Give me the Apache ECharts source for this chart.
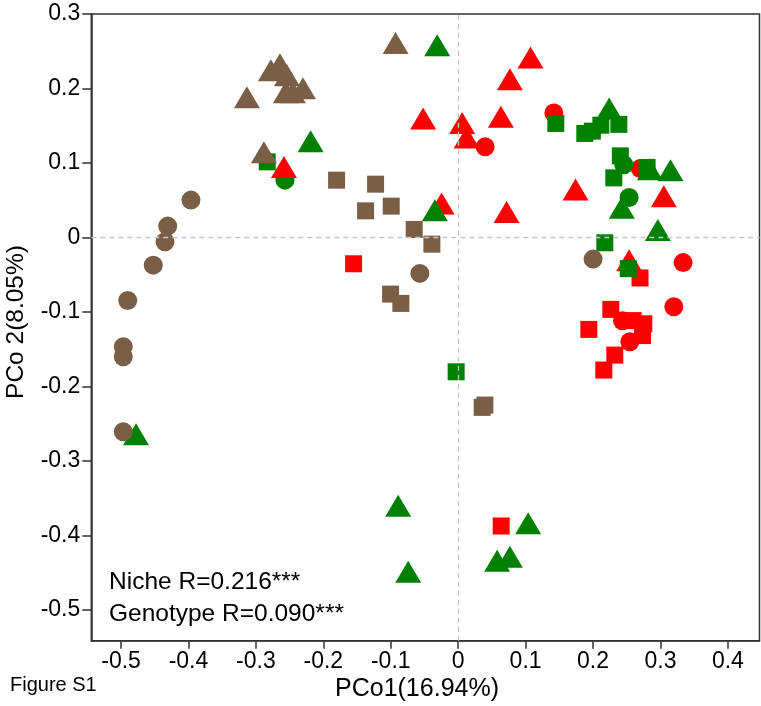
<!DOCTYPE html>
<html>
<head>
<meta charset="utf-8">
<script src="https://cdn.jsdelivr.net/npm/echarts@6/dist/echarts.min.js"></script>
<style>
html,body{margin:0;padding:0;background:#fff;}
#chart{width:761px;height:706px;}
</style>
</head>
<body>
<div id="chart"></div>
<script>
// ---- data ----
var xTicks = [-0.5, -0.4, -0.3, -0.2, -0.1, 0, 0.1, 0.2, 0.3, 0.4];
var yTicks = [-0.5, -0.4, -0.3, -0.2, -0.1, 0, 0.1, 0.2, 0.3];

var brownCircle = [[-0.3963,0.0501],[-0.4308,0.0152],[-0.4348,-0.0059],[-0.4522,-0.0372],[-0.4901,-0.0846],
  [-0.4967,-0.1468],[-0.4967,-0.1603],[-0.4967,-0.2609],[-0.0568,-0.0483],[0.2001,-0.0291]];
var brownSquare = [[-0.1803,0.0769],[-0.1225,0.0715],[-0.1373,0.0357],[-0.0993,0.0420],[-0.0652,0.0107],
  [-0.0390,-0.0090],[-0.1002,-0.0761],[-0.0850,-0.0886],[0.0356,-0.2282],[0.0396,-0.2251]];
var brownTriangle = [[-0.3133,0.1883],[-0.2777,0.2246],[-0.2643,0.2326],[-0.2540,0.2179],[-0.2555,0.1950],
  [-0.2451,0.1950],[-0.2302,0.2004],[-0.2881,0.1145],[-0.0928,0.2612]];
var redCircle = [[0.0400,0.1216],[0.1419,0.1672],[0.2701,0.0926],[0.3336,-0.0338],[0.3198,-0.0932],
  [0.2437,-0.1119],[0.2546,-0.1401]];
var redSquare = [[-0.1551,-0.0354],[0.2697,-0.0544],[0.2264,-0.0966],[0.2594,-0.1117],[0.2753,-0.1160],
  [0.2734,-0.1318],[0.1938,-0.1235],[0.2323,-0.1580],[0.2160,-0.1781],[0.0638,-0.3875]];
var redTriangle = [[0.1073,0.2416],[0.0767,0.2125],[-0.0519,0.1597],[0.0059,0.1538],[0.0125,0.1342],
  [0.0633,0.1619],[0.1741,0.0642],[0.3050,0.0554],[0.0718,0.0340],[-0.0246,0.0456],[-0.2584,0.0944],[0.2535,-0.0305]];
var greenCircle = [[-0.2569,0.0769],[0.2457,0.0977],[0.2535,0.0537]];
var greenSquare = [[-0.2832,0.1015],[0.1448,0.1530],[0.1878,0.1396],[0.1990,0.1427],[0.2116,0.1507],
  [0.2383,0.1518],[0.2405,0.1095],[0.2802,0.0940],[0.2308,0.0800],[0.2175,-0.0072],[0.2523,-0.0419],[-0.0030,-0.1804]];
var greenTriangle = [[-0.2188,0.1293],[-0.0311,0.2581],[0.2239,0.1732],[0.2842,0.0917],[0.3149,0.0903],
  [0.2427,0.0400],[0.2961,0.0098],[-0.0345,0.0366],[-0.4778,-0.2644],[-0.0890,-0.3603],[-0.0741,-0.4489],
  [0.1038,-0.3839],[0.0578,-0.4341],[0.0767,-0.4287]];

var annotations = ['Niche R=0.216***', 'Genotype R=0.090***'];
var xName = 'PCo1(16.94%)';
var yName = 'PCo 2(8.05%)';
var figLabel = 'Figure S1';

// ---- style ----
var BROWN = '#7B5E46', RED = '#FF0000', GREEN = '#008000';
var FONT = '"Liberation Sans", Arial, Helvetica, sans-serif';
var AX = '#333333';

function sc(name, data, color, symbol, size) {
  return {
    name: name, type: 'scatter', data: data, symbol: symbol, symbolSize: size,
    itemStyle: { color: color, opacity: 1 }, silent: true, animation: false
  };
}

var chart = echarts.init(document.getElementById('chart'), null, { renderer: 'canvas' });
chart.setOption({
  backgroundColor: '#ffffff',
  animation: false,
  grid: { left: 91.3, right: 1.5, top: 14, bottom: 65.3, show: true, borderColor: AX, borderWidth: 1.5, backgroundColor: 'transparent' },
  xAxis: {
    type: 'value', min: -0.5441, max: 0.4469,
    axisLine: { show: true, onZero: false, lineStyle: { color: AX, width: 1.5 } },
    axisTick: { show: true, customValues: xTicks, length: 8, lineStyle: { color: AX, width: 1.5 } },
    axisLabel: { show: true, customValues: xTicks, margin: 9, color: '#000', fontSize: 23, fontFamily: FONT },
    splitLine: { show: false }
  },
  yAxis: {
    type: 'value', min: -0.5415, max: 0.3,
    axisLine: { show: true, onZero: false, lineStyle: { color: AX, width: 1.5 } },
    axisTick: { show: true, customValues: yTicks, length: 9, lineStyle: { color: AX, width: 1.5 } },
    axisLabel: { show: true, customValues: yTicks, margin: 11, color: '#000', fontSize: 23, fontFamily: FONT },
    splitLine: { show: false }
  },
  series: [
    {
      type: 'scatter', data: [], z: 1, silent: true,
      markLine: {
        silent: true, symbol: ['none', 'none'], animation: false,
        label: { show: false },
        lineStyle: { color: '#c8c8c8', width: 1.3, type: [5, 4] },
        data: [{ xAxis: 0 }, { yAxis: 0 }]
      }
    },
    sc('redCircle', redCircle, RED, 'circle', 19),
    sc('redSquare', redSquare, RED, 'rect', 17),
    sc('greenCircle', greenCircle, GREEN, 'circle', 19),
    sc('redTriangle', redTriangle, RED, 'triangle', [26, 22]),
    sc('greenSquare', greenSquare, GREEN, 'rect', 17),
    sc('greenTriangle', greenTriangle, GREEN, 'triangle', [26, 22]),
    sc('brownCircle', brownCircle, BROWN, 'circle', 19),
    sc('brownSquare', brownSquare, BROWN, 'rect', 17),
    sc('brownTriangle', brownTriangle, BROWN, 'triangle', [26, 22])
  ],
  graphic: [
    { type: 'text', x: 109, y: 582.5, silent: true,
      style: { text: annotations[0], fontSize: 24.5, fontFamily: FONT, fill: '#000', align: 'left', verticalAlign: 'middle' } },
    { type: 'text', x: 109, y: 614, silent: true,
      style: { text: annotations[1], fontSize: 24.5, fontFamily: FONT, fill: '#000', align: 'left', verticalAlign: 'middle' } },
    { type: 'text', x: 417, y: 689, silent: true,
      style: { text: xName, fontSize: 25, fontFamily: FONT, fill: '#000', align: 'center', verticalAlign: 'middle' } },
    { type: 'text', x: 16, y: 322, rotation: Math.PI / 2, silent: true,
      style: { text: yName, fontSize: 24.5, fontFamily: FONT, fill: '#000', align: 'center', verticalAlign: 'middle' } },
    { type: 'text', x: 10, y: 685.3, silent: true,
      style: { text: figLabel, fontSize: 20, fontFamily: FONT, fill: '#000', align: 'left', verticalAlign: 'middle' } }
  ]
});
</script>
</body>
</html>
